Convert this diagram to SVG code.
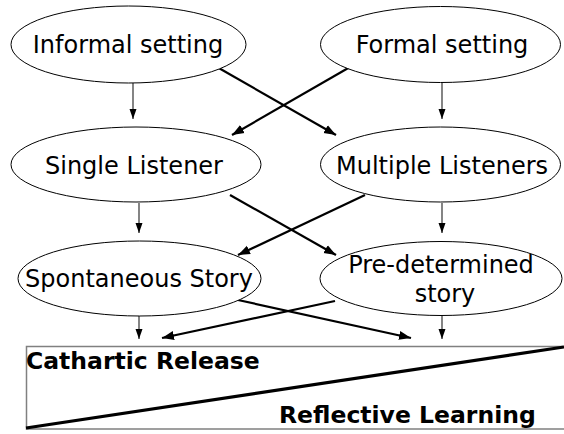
<svg xmlns="http://www.w3.org/2000/svg" width="564" height="434" viewBox="0 0 564 434">
<defs>
<marker id="ah" markerUnits="userSpaceOnUse" markerWidth="10" markerHeight="10" viewBox="0 0 10 10" refX="10" refY="5" orient="auto"><path d="M0,1.5 L10,5 L0,8.5 Z" fill="#000"/></marker>
<marker id="ahb" markerUnits="userSpaceOnUse" markerWidth="12" markerHeight="12" viewBox="0 0 12 12" refX="12" refY="6" orient="auto"><path d="M0,1.5 L12,6 L0,10.5 Z" fill="#000"/></marker>
<style>
.n ellipse{fill:#fff;stroke:#000;stroke-width:1}
.n text{font-family:"DejaVu Sans","Verdana",sans-serif;font-size:24px;text-anchor:middle;fill:#000}
.v{stroke:#333;stroke-width:1.2;fill:none;marker-end:url(#ah)}
.x{stroke:#000;stroke-width:2.2;fill:none;marker-end:url(#ahb)}
.b{font-family:"DejaVu Sans","Verdana",sans-serif;font-size:23.5px;font-weight:bold;fill:#000}
</style>
</defs>
<rect width="564" height="434" fill="#fff"/>
<g id="connectors">
<line class="v" x1="133" y1="83" x2="133" y2="119"/>
<line class="v" x1="442" y1="83" x2="442" y2="119"/>
<line class="x" x1="217" y1="67" x2="336" y2="135"/>
<line class="x" x1="350" y1="67" x2="232" y2="135"/>
<line class="v" x1="139" y1="203" x2="139" y2="233"/>
<line class="v" x1="442" y1="203" x2="442" y2="233"/>
<line class="x" x1="230" y1="195" x2="336" y2="255"/>
<line class="x" x1="365" y1="195" x2="238" y2="255"/>
<line class="v" x1="139" y1="316" x2="139" y2="339"/>
<line class="v" x1="442" y1="316" x2="442" y2="339"/>
<line class="x" x1="238" y1="300" x2="411" y2="338"/>
<line class="x" x1="335" y1="301" x2="162" y2="338"/>
</g>
<g id="informal" class="n"><ellipse cx="128.5" cy="44.5" rx="117.5" ry="38.5"/><text x="128" y="53">Informal setting</text></g>
<g id="formal" class="n"><ellipse cx="440.5" cy="44.5" rx="120" ry="38"/><text x="442" y="53">Formal setting</text></g>
<g id="single" class="n"><ellipse cx="136" cy="164.5" rx="125" ry="37.5"/><text x="134" y="174">Single Listener</text></g>
<g id="multiple" class="n"><ellipse cx="440.5" cy="164.5" rx="120" ry="37.5"/><text x="442" y="174">Multiple Listeners</text></g>
<g id="spontaneous" class="n"><ellipse cx="139.5" cy="278.5" rx="121.5" ry="37.5"/><text x="139" y="287">Spontaneous Story</text></g>
<g id="predetermined" class="n"><ellipse cx="441" cy="278.5" rx="121" ry="37"/><text x="441" y="273">Pre-determined</text><text x="445" y="302">story</text></g>
<g id="scale">
<path d="M564,346.5 H26.5 V429 H564" fill="none" stroke="#808080" stroke-width="1.5"/>
<line x1="26" y1="428" x2="564" y2="347" stroke="#000" stroke-width="3.2"/>
<text class="b" x="26" y="369">Cathartic Release</text>
<text class="b" x="279" y="423">Reflective Learning</text>
</g>
</svg>
